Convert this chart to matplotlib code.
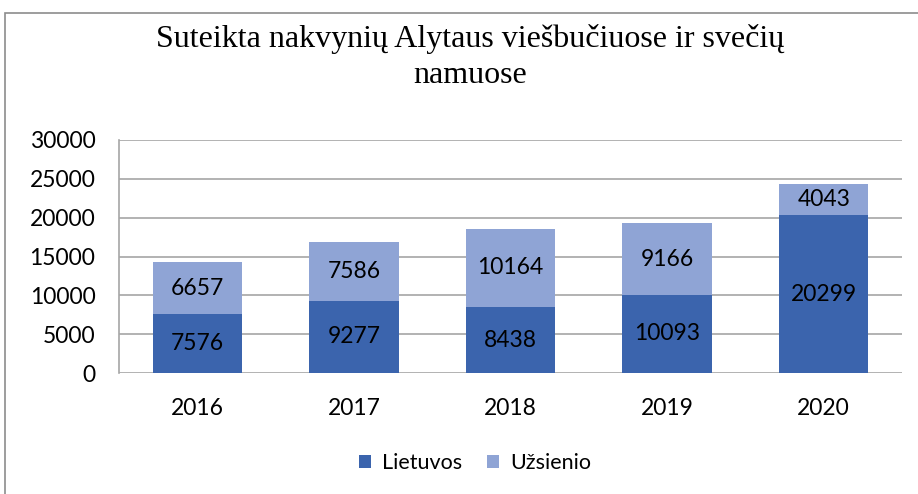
import matplotlib
matplotlib.use('Agg')
import matplotlib.pyplot as plt
import numpy as np
from matplotlib.patches import Rectangle

years = ['2016', '2017', '2018', '2019', '2020']
lietuvos = [7576, 9277, 8438, 10093, 20299]
uzsienio = [6657, 7586, 10164, 9166, 4043]
yticks = [0, 5000, 10000, 15000, 20000, 25000, 30000]

c_dark = '#3B64AD'
c_light = '#8FA4D5'
grid_c = '#A6A6A6'
lab_font = ['Lato', 'DejaVu Sans']

fig = plt.figure(figsize=(9.18, 4.94), dpi=100)
# chart border (right and bottom edges fall outside the picture)
fig.patches.append(Rectangle((5/918, -0.05), 1, 1.05 - 13/494, transform=fig.transFigure,
                             fill=False, edgecolor='#8C8C8C', lw=1.2))

ax = fig.add_axes([119/918, 1 - 373/494, 783/918, 233/494])
x = np.arange(len(years))
b1 = ax.bar(x, lietuvos, 0.57, color=c_dark, zorder=3)
b2 = ax.bar(x, uzsienio, 0.57, bottom=lietuvos, color=c_light, zorder=3)

for i in range(len(years)):
    ax.text(x[i], lietuvos[i]/2, str(lietuvos[i]), ha='center', va='center',
            fontsize=16.5, family=lab_font, zorder=4)
    ax.text(x[i], lietuvos[i] + uzsienio[i]/2, str(uzsienio[i]), ha='center', va='center',
            fontsize=16.5, family=lab_font, zorder=4)

ax.set_xlim(-0.5, len(years) - 0.5)
ax.set_ylim(0, 30000)
ax.set_yticks(yticks)
ax.set_yticklabels([str(v) for v in yticks], fontsize=16.5, family=lab_font)
ax.set_xticks(x)
ax.set_xticklabels(years, fontsize=16.5, family=lab_font)
ax.tick_params(length=0)
ax.tick_params(axis='y', pad=17)
ax.tick_params(axis='x', pad=18)
ax.grid(axis='y', color=grid_c, lw=1.2, zorder=0)
for s in ['top', 'right', 'bottom']:
    ax.spines[s].set_visible(False)
ax.spines['left'].set_color(grid_c)
ax.spines['left'].set_linewidth(1.2)

fig.text(470/918, 1 - 57/494, 'Suteikta nakvynių Alytaus viešbučiuose ir svečių\nnamuose',
         ha='center', va='center', fontsize=23, family='Liberation Serif', linespacing=1.3)

fig.legend([b1, b2], ['Lietuvos', 'Užsienio'], loc='center', bbox_to_anchor=(475/918, 1 - 463/494),
           ncol=2, frameon=False, prop={'family': lab_font, 'size': 15.5},
           handlelength=0.55, handleheight=0.55, columnspacing=1.2, handletextpad=0.5)

fig.savefig('out.png', dpi=100)
